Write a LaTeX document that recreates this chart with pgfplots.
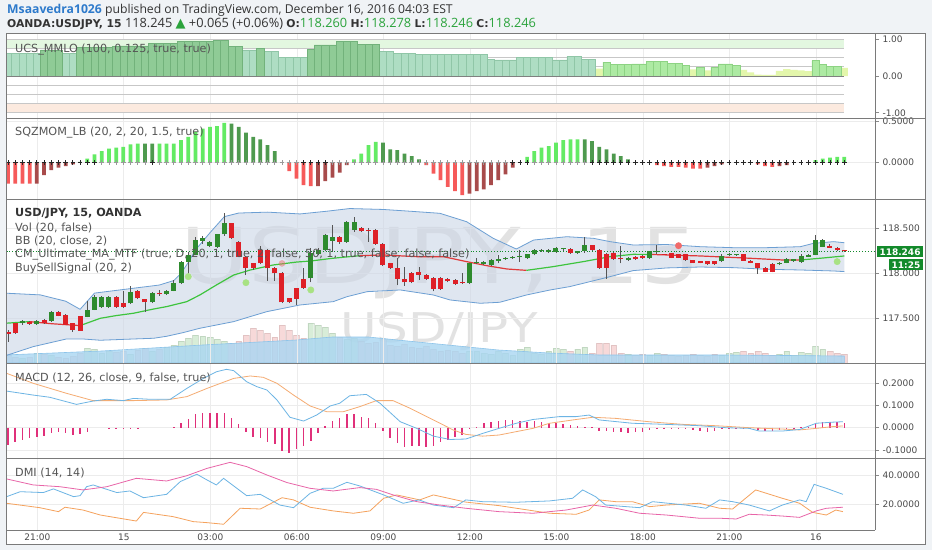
\documentclass[border=0pt]{standalone}
\usepackage{fontspec}
\setmainfont{DejaVu Sans}
\newfontfamily\hdr{Open Sans}
\usepackage{pgfplots}
\pgfplotsset{compat=1.18}
\usepackage{pgfplotstable}

\definecolor{bgc}{HTML}{F0F3F6}
\definecolor{framec}{HTML}{7A7A7A}
\definecolor{gridc}{HTML}{ECECEC}
\definecolor{tickc}{HTML}{8A8A8A}
\definecolor{labc}{HTML}{4A4A4A}
\definecolor{txtc}{HTML}{555555}
\definecolor{hdrc}{HTML}{333333}
\definecolor{userc}{HTML}{2D7ACB}
\definecolor{upc}{HTML}{2BA33C}
\definecolor{mmD}{HTML}{8FCB96}
\definecolor{mmDd}{HTML}{72B27B}
\definecolor{mmM}{HTML}{AEDDC3}
\definecolor{mmMd}{HTML}{90C6A7}
\definecolor{mmL}{HTML}{ADEAA3}
\definecolor{mmLd}{HTML}{8DD383}
\definecolor{mmY}{HTML}{E3F6AB}
\definecolor{bandg}{HTML}{E3F7E0}
\definecolor{bando}{HTML}{FCEADF}
\definecolor{lvl}{HTML}{C7C7C7}
\definecolor{sqG}{HTML}{63EB63}
\definecolor{sqDG}{HTML}{4E9A4E}
\definecolor{sqR}{HTML}{F65A5A}
\definecolor{sqDR}{HTML}{A84B4B}
\definecolor{crossG}{HTML}{9A9A9A}
\definecolor{bblc}{HTML}{6C9FD3}
\definecolor{bbfc}{HTML}{CBD6E6}
\definecolor{maG}{HTML}{3EC43E}
\definecolor{maR}{HTML}{E03A3A}
\definecolor{candG}{HTML}{2E8B2E}
\definecolor{candR}{HTML}{DE2027}
\definecolor{wickc}{HTML}{555555}
\definecolor{pricec}{HTML}{138A2B}
\definecolor{dotG}{HTML}{A8E283}
\definecolor{dotR}{HTML}{F06A6A}
\definecolor{volG}{HTML}{C8E6C8}
\definecolor{volR}{HTML}{F4CACA}
\definecolor{volma}{HTML}{A9D6F2}
\definecolor{volmad}{HTML}{8CC4EA}
\definecolor{histc}{HTML}{E0307A}
\definecolor{macdc}{HTML}{6CB4E4}
\definecolor{sigc}{HTML}{F5AC72}
\definecolor{adxc}{HTML}{E865A8}
\definecolor{pdic}{HTML}{6CB4E4}
\definecolor{mdic}{HTML}{F5A25D}
\definecolor{wmc}{HTML}{E2E2E2}

\newcommand\tickfont{\fontsize{9}{10}\selectfont}
\newcommand\labfont{\fontsize{11.2}{13}\selectfont}
\newcommand\hb[1]{{\rmfamily\bfseries\fontsize{10.8}{12}\selectfont #1}}

\pgfplotsset{pane/.style={
  scale only axis, width=868pt, anchor=north west,
  xmin=-0.139, xmax=120.25,
  axis line style={draw=none},
  xtick={4.06,16.06,28.06,40.06,52.06,64.06,76.06,88.06,100.06,112.06},
  xticklabels={},
  major x tick style={draw=none},
  xmajorgrids, ymajorgrids,
  major grid style={draw=gridc, line width=0.6pt},
  ytick pos=right, yticklabel pos=right, ytick align=outside,
  major tick length=4pt,
  major y tick style={draw=tickc, line width=0.6pt},
  yticklabel style={font=\tickfont, text=labc},
  xticklabel style={font=\tickfont, text=labc},
}}

\pgfplotstableread{
k v c
0 0.62 2
1 0.62 2
2 0.62 2
3 0.62 2
4 0.62 2
5 0.71 1
6 0.71 1
7 0.71 1
8 0.62 2
9 0.62 2
10 0.78 1
11 0.78 1
12 0.78 1
13 0.78 1
14 0.78 1
15 0.80 1
16 0.82 1
17 0.82 1
18 0.82 1
19 0.82 1
20 0.89 1
21 0.89 1
22 0.89 1
23 0.89 1
24 0.94 1
25 0.94 1
26 0.94 1
27 0.94 1
28 0.94 1
29 0.96 1
30 0.96 1
31 0.80 1
32 0.80 1
33 0.71 2
34 0.71 2
35 0.76 1
36 0.67 2
37 0.67 2
38 0.51 2
39 0.51 2
40 0.51 2
41 0.51 2
42 0.73 1
43 0.85 1
44 0.85 1
45 0.85 1
46 0.94 1
47 0.94 1
48 0.94 1
49 0.87 1
50 0.87 1
51 0.87 1
52 0.68 2
53 0.68 2
54 0.62 2
55 0.62 2
56 0.62 2
57 0.58 2
58 0.58 2
59 0.58 2
60 0.58 2
61 0.58 2
62 0.58 2
63 0.58 2
64 0.58 2
65 0.58 2
66 0.58 2
67 0.46 2
68 0.44 2
69 0.44 2
70 0.44 2
71 0.51 2
72 0.51 2
73 0.51 2
74 0.51 2
75 0.51 2
76 0.44 2
77 0.44 2
78 0.53 2
79 0.53 2
80 0.46 2
81 0.46 2
82 0.20 4
83 0.38 3
84 0.31 3
85 0.31 3
86 0.31 3
87 0.33 3
88 0.33 3
89 0.40 3
90 0.40 3
91 0.40 3
92 0.35 3
93 0.35 3
94 0.28 3
95 0.18 4
96 0.24 3
97 0.15 4
98 0.24 3
99 0.33 3
100 0.33 3
101 0.29 3
102 0.17 4
103 0.10 4
104 0.04 4
105 0.03 4
106 0.03 4
107 0.14 4
108 0.19 4
109 0.17 4
110 0.15 4
111 0.13 4
112 0.42 3
113 0.32 3
114 0.26 3
115 0.26 3
116 0.22 4
}\mmlo

\pgfplotstableread{
k v c s z
0 -0.25 3 1 0
1 -0.25 3 1 0
2 -0.25 3 1 0
3 -0.25 3 1 0
4 -0.25 4 1 0
5 -0.15 4 1 0
6 -0.09 4 1 0
7 -0.06 4 1 0
8 -0.04 4 1 0
9 -0.02 4 1 0
10 0.01 1 1 0
11 0.05 1 1 0
12 0.10 1 1 0
13 0.14 1 0 0
14 0.17 1 0 0
15 0.18 1 0 0
16 0.19 1 0 0
17 0.22 1 0 0
18 0.23 1 0 0
19 0.23 2 0 0
20 0.23 2 1 0
21 0.23 1 0 0
22 0.23 1 0 0
23 0.23 1 0 0
24 0.27 1 0 0
25 0.31 1 0 0
26 0.37 1 0 0
27 0.41 1 0 0
28 0.43 1 0 0
29 0.44 1 0 0
30 0.48 1 0 0
31 0.47 2 0 0
32 0.43 2 0 0
33 0.36 2 0 0
34 0.31 2 0 0
35 0.28 2 0 0
36 0.21 2 0 0
37 0.14 2 0 0
38 0.00 2 0 0
39 -0.10 3 0 0
40 -0.19 3 0 0
41 -0.27 3 1 0
42 -0.28 3 1 0
43 -0.28 4 1 0
44 -0.22 4 1 0
45 -0.18 4 0 0
46 -0.12 4 0 0
47 -0.03 4 0 0
48 0.04 1 0 0
49 0.11 1 0 0
50 0.21 1 0 0
51 0.25 1 0 0
52 0.24 2 0 0
53 0.16 2 0 0
54 0.15 2 0 0
55 0.11 2 0 0
56 0.08 2 0 0
57 0.04 2 0 0
58 -0.03 3 0 0
59 -0.13 3 0 0
60 -0.21 3 0 0
61 -0.29 3 0 0
62 -0.34 3 0 0
63 -0.39 3 0 0
64 -0.37 4 0 0
65 -0.34 4 0 0
66 -0.32 4 0 0
67 -0.27 4 0 0
68 -0.21 4 0 0
69 -0.14 4 0 0
70 -0.06 4 1 0
71 0.00 1 1 0
72 0.07 1 1 0
73 0.14 1 0 0
74 0.18 1 0 0
75 0.20 1 0 0
76 0.24 1 0 0
77 0.27 1 0 0
78 0.28 1 0 0
79 0.28 1 0 0
80 0.28 2 0 0
81 0.26 2 1 0
82 0.19 2 1 0
83 0.16 2 1 0
84 0.11 2 1 0
85 0.08 2 1 0
86 0.04 2 1 0
87 0.00 2 1 0
88 0.00 2 1 0
89 0.00 3 1 0
90 -0.03 3 1 0
91 -0.04 3 1 0
92 -0.05 3 1 0
93 -0.05 3 1 0
94 -0.06 3 1 0
95 -0.07 3 1 0
96 -0.07 3 1 0
97 -0.06 4 1 0
98 -0.04 4 1 0
99 -0.02 4 1 0
100 0.00 4 1 0
101 0.00 4 1 0
102 0.00 4 1 0
103 0.00 3 1 0
104 -0.02 3 1 0
105 -0.04 3 1 0
106 -0.05 3 1 0
107 -0.04 4 1 0
108 -0.03 4 1 0
109 0.00 4 1 0
110 0.00 4 1 0
111 0.00 1 1 0
112 0.03 1 1 0
113 0.05 1 1 0
114 0.06 1 1 0
115 0.07 1 1 0
116 0.07 1 1 0
}\sqz

% candles: per candle two rows (low/body-bottom, high/body-top) and a break row
\pgfplotstableread{
k w b c
0 117.24 117.322 0
0 117.37 117.352 0
0 nan nan 0
1 117.33 117.333 0
1 117.45 117.444 0
1 nan nan 0
2 117.43 117.444 1
2 117.48 117.470 1
2 nan nan 1
3 117.43 117.437 0
3 117.47 117.463 0
3 nan nan 0
4 117.43 117.440 1
4 117.48 117.470 1
4 nan nan 1
5 117.44 117.445 0
5 117.49 117.480 0
5 nan nan 0
6 117.46 117.470 1
6 117.58 117.567 1
6 nan nan 1
7 117.52 117.530 0
7 117.58 117.567 0
7 nan nan 0
8 117.42 117.426 0
8 117.55 117.537 0
8 nan nan 0
9 117.35 117.370 0
9 117.45 117.444 0
9 nan nan 0
10 117.36 117.363 0
10 117.53 117.526 0
10 nan nan 0
11 117.51 117.519 1
11 117.69 117.593 1
11 nan nan 1
12 117.59 117.593 1
12 117.76 117.740 1
12 nan nan 1
13 117.62 117.630 1
13 117.75 117.740 1
13 nan nan 1
14 117.62 117.630 1
14 117.75 117.740 1
14 nan nan 1
15 117.62 117.630 0
15 117.75 117.740 0
15 nan nan 0
16 117.62 117.630 0
16 117.80 117.667 0
16 nan nan 0
17 117.66 117.667 1
17 117.86 117.796 1
17 nan nan 1
18 117.71 117.722 0
18 117.81 117.804 0
18 nan nan 0
19 117.57 117.678 0
19 117.72 117.715 0
19 nan nan 0
20 117.67 117.678 1
20 117.79 117.785 1
20 nan nan 1
21 117.75 117.767 0
21 117.82 117.785 0
21 nan nan 0
22 117.76 117.770 1
22 117.82 117.807 1
22 nan nan 1
23 117.80 117.807 1
23 117.93 117.889 1
23 nan nan 1
24 117.88 117.889 1
24 118.14 118.130 1
24 nan nan 1
25 117.96 118.130 1
25 118.24 118.204 1
25 nan nan 1
26 118.20 118.204 1
26 118.40 118.370 1
26 nan nan 1
27 118.33 118.360 1
27 118.41 118.390 1
27 nan nan 1
28 118.29 118.307 1
28 118.36 118.352 1
28 nan nan 1
29 118.28 118.296 1
29 118.44 118.433 1
29 nan nan 1
30 118.42 118.433 1
30 118.667 118.556 1
30 nan nan 1
31 118.38 118.389 0
31 118.56 118.556 0
31 nan nan 0
32 118.18 118.185 0
32 118.36 118.352 0
32 nan nan 0
33 117.98 118.063 0
33 118.19 118.185 0
33 nan nan 0
34 118.04 118.056 0
34 118.12 118.111 0
34 nan nan 0
35 118.10 118.111 0
35 118.30 118.259 0
35 nan nan 0
36 117.92 118.056 0
36 118.27 118.259 0
36 nan nan 0
37 117.92 118.000 0
37 118.07 118.063 0
37 nan nan 0
38 117.67 117.678 0
38 118.01 118.000 0
38 nan nan 0
39 117.67 117.678 0
39 117.73 117.722 0
39 nan nan 0
40 117.65 117.715 0
40 117.84 117.833 0
40 nan nan 0
41 117.83 117.841 0
41 118.06 117.937 0
41 nan nan 0
42 117.90 117.944 1
42 118.28 118.222 1
42 nan nan 1
43 118.20 118.220 1
43 118.28 118.260 1
43 nan nan 1
44 118.25 118.260 1
44 118.44 118.430 1
44 nan nan 1
45 118.24 118.360 1
45 118.54 118.400 1
45 nan nan 1
46 118.33 118.350 0
46 118.41 118.400 0
46 nan nan 0
47 118.34 118.350 1
47 118.58 118.570 1
47 nan nan 1
48 118.46 118.480 1
48 118.63 118.570 1
48 nan nan 1
49 118.46 118.470 0
49 118.51 118.500 0
49 nan nan 0
50 118.35 118.470 0
50 118.50 118.482 0
50 nan nan 0
51 118.32 118.330 0
51 118.49 118.480 0
51 nan nan 0
52 118.08 118.090 0
52 118.34 118.330 0
52 nan nan 0
53 118.05 118.060 0
53 118.12 118.110 0
53 nan nan 0
54 117.87 117.940 0
54 118.17 118.060 0
54 nan nan 0
55 117.86 117.900 0
55 118.07 117.940 0
55 nan nan 0
56 117.89 117.900 0
56 118.01 118.000 0
56 nan nan 0
57 117.93 117.980 0
57 118.07 118.010 0
57 nan nan 0
58 117.93 117.940 0
58 117.99 117.980 0
58 nan nan 0
59 117.80 117.830 0
59 117.96 117.950 0
59 nan nan 0
60 117.82 117.830 0
60 117.96 117.950 0
60 nan nan 0
61 117.90 117.910 0
61 117.95 117.940 0
61 nan nan 0
62 117.87 117.880 0
62 117.94 117.930 0
62 nan nan 0
63 117.88 117.890 0
63 118.00 117.902 0
63 nan nan 0
64 117.88 117.890 1
64 118.12 118.110 1
64 nan nan 1
65 118.10 118.110 1
65 118.17 118.130 1
65 nan nan 1
66 118.09 118.100 1
66 118.14 118.130 1
66 nan nan 1
67 118.08 118.090 1
67 118.16 118.150 1
67 nan nan 1
68 118.11 118.140 1
68 118.20 118.160 1
68 nan nan 1
69 118.15 118.160 1
69 118.18 118.172 1
69 nan nan 1
70 118.16 118.170 1
70 118.19 118.182 1
70 nan nan 1
71 118.13 118.180 1
71 118.26 118.192 1
71 nan nan 1
72 118.16 118.170 1
72 118.22 118.210 1
72 nan nan 1
73 118.20 118.210 1
73 118.27 118.260 1
73 nan nan 1
74 118.24 118.250 1
74 118.27 118.262 1
74 nan nan 1
75 118.23 118.240 1
75 118.27 118.255 1
75 nan nan 1
76 118.23 118.240 1
76 118.29 118.280 1
76 nan nan 1
77 118.25 118.265 1
77 118.28 118.277 1
77 nan nan 1
78 118.22 118.230 0
78 118.28 118.270 0
78 nan nan 0
79 118.22 118.230 1
79 118.25 118.245 1
79 nan nan 1
80 118.23 118.250 1
80 118.40 118.310 1
80 nan nan 1
81 118.25 118.260 0
81 118.32 118.310 0
81 nan nan 0
82 118.05 118.060 0
82 118.27 118.260 0
82 nan nan 0
83 117.94 118.060 0
83 118.23 118.220 0
83 nan nan 0
84 118.15 118.156 0
84 118.24 118.222 0
84 nan nan 0
85 118.11 118.156 0
85 118.30 118.168 0
85 nan nan 0
86 118.14 118.148 1
86 118.18 118.167 1
86 nan nan 1
87 118.15 118.156 0
87 118.19 118.185 0
87 nan nan 0
88 118.16 118.167 0
88 118.20 118.193 0
88 nan nan 0
89 118.16 118.167 1
89 118.25 118.248 1
89 nan nan 1
90 118.22 118.233 1
90 118.32 118.245 1
90 nan nan 1
91 118.20 118.204 0
91 118.22 118.216 0
91 nan nan 0
92 118.17 118.174 0
92 118.23 118.222 0
92 nan nan 0
93 118.17 118.174 0
93 118.22 118.211 0
93 nan nan 0
94 118.14 118.148 0
94 118.22 118.211 0
94 nan nan 0
95 118.11 118.119 0
95 118.15 118.148 0
95 nan nan 0
96 118.11 118.119 0
96 118.14 118.137 0
96 nan nan 0
97 118.09 118.100 0
97 118.14 118.137 0
97 nan nan 0
98 118.09 118.100 0
98 118.14 118.137 0
98 nan nan 0
99 118.13 118.133 1
99 118.22 118.196 1
99 nan nan 1
100 118.19 118.204 1
100 118.23 118.216 1
100 nan nan 1
101 118.19 118.204 1
101 118.22 118.216 1
101 nan nan 1
102 118.14 118.141 0
102 118.22 118.211 0
102 nan nan 0
103 118.11 118.119 0
103 118.15 118.141 0
103 nan nan 0
104 117.993 118.063 0
104 118.12 118.119 0
104 nan nan 0
105 118.01 118.019 0
105 118.07 118.063 0
105 nan nan 0
106 118.01 118.019 0
106 118.11 118.100 0
106 nan nan 0
107 118.09 118.100 1
107 118.13 118.119 1
107 nan nan 1
108 118.11 118.119 1
108 118.17 118.156 1
108 nan nan 1
109 118.13 118.137 1
109 118.16 118.156 1
109 nan nan 1
110 118.12 118.122 1
110 118.22 118.193 1
110 nan nan 1
111 118.18 118.185 1
111 118.21 118.204 1
111 nan nan 1
112 118.20 118.204 1
112 118.426 118.370 1
112 nan nan 1
113 118.29 118.296 1
113 118.38 118.370 1
113 nan nan 1
114 118.28 118.285 0
114 118.33 118.307 0
114 nan nan 0
115 118.25 118.259 0
115 118.29 118.278 0
115 nan nan 0
116 118.24 118.248 0
116 118.26 118.260 0
116 nan nan 0
}\cl

\pgfplotstableread{
k v c
0 8 0
1 6 0
2 5 1
3 6 0
4 10 1
5 9 0
6 8 1
7 6 0
8 5 0
9 7 0
10 10 0
11 15 1
12 14 1
13 10 1
14 12 1
15 11 0
16 12 0
17 9 1
18 13 0
19 15 0
20 12 1
21 14 0
22 16 1
23 18 1
24 22 1
25 25 1
26 28 1
27 27 1
28 26 1
29 24 1
30 22 1
31 20 0
32 22 0
33 28 0
34 35 0
35 33 0
36 30 0
37 26 0
38 38 0
39 33 0
40 28 0
41 25 0
42 40 1
43 38 1
44 36 1
45 30 1
46 26 0
47 24 1
48 25 1
49 22 0
50 20 0
51 21 0
52 24 0
53 18 0
54 17 0
55 19 0
56 16 0
57 15 0
58 17 0
59 14 0
60 12 0
61 13 0
62 12 0
63 10 0
64 12 1
65 12 1
66 10 1
67 9 1
68 12 1
69 10 1
70 8 1
71 14 1
72 16 1
73 10 1
74 9 1
75 12 1
76 15 1
77 14 1
78 12 0
79 14 1
80 16 1
81 10 0
82 20 0
83 20 0
84 18 0
85 10 0
86 9 1
87 8 0
88 9 0
89 8 1
90 10 1
91 9 0
92 8 0
93 7 0
94 8 0
95 9 0
96 8 0
97 7 0
98 9 0
99 8 1
100 10 1
101 11 1
102 12 0
103 10 0
104 12 0
105 10 0
106 8 0
107 9 1
108 12 1
109 8 1
110 11 1
111 10 1
112 17 1
113 14 1
114 12 0
115 10 0
116 9 0
}\vol

\pgfplotstableread{
k u
-0.5 117.78
4.5 117.76
8 117.69
10 117.60
12 117.78
15 117.81
18 117.84
21 117.87
23 117.92
24 118.00
25 118.12
26 118.26
28 118.45
30 118.63
32 118.67
36 118.68
40.5 118.66
44.2 118.69
47.4 118.72
52 118.71
55.8 118.69
59.9 118.667
63.6 118.574
67.3 118.389
70.5 118.27
72.9 118.37
77.5 118.407
81.2 118.389
83.5 118.352
86.7 118.315
91.4 118.32
96 118.296
100.6 118.285
105.2 118.285
109.9 118.296
111.7 118.333
114.5 118.352
116 118.34
}\bbu

\pgfplotstableread{
k l
-0.5 117.08
3.5 117.185
8.1 117.27
10.4 117.27
12.8 117.256
17.4 117.27
20.2 117.278
22 117.30
24.3 117.341
26.6 117.389
31.3 117.463
33.6 117.519
35.9 117.574
38.2 117.611
40.5 117.648
45.1 117.685
47 117.74
49.8 117.796
54.4 117.815
59 117.759
61.3 117.704
65.5 117.667
68.2 117.678
71.9 117.759
75.2 117.815
77.9 117.852
80.7 117.907
83.5 117.963
86.7 118.03
91.4 118.06
96 118.070
100.6 118.063
105.2 118.045
109.9 118.037
114.5 118.026
116 118.019
}\bbl

\pgfplotstableread{
k m
-0.5 8
13 12
27 18
40 23
45 26
50 26
54 23
61 18
68 13
75 10
82 8
100 8
116 7
}\volma

\pgfplotstableread{
k h
0 -0.078
1 -0.063
2 -0.056
3 -0.048
4 -0.040
5 -0.038
6 -0.023
7 -0.018
8 -0.023
9 -0.033
10 -0.029
11 -0.018
12 0
13 0
14 -0.003
15 -0.003
16 -0.003
17 -0.003
18 -0.003
19 0
20 0
21 0
22 0
23 0.003
24 0.023
25 0.038
26 0.060
27 0.068
28 0.068
29 0.065
30 0.068
31 0.045
32 0.017
33 -0.018
34 -0.040
35 -0.045
36 -0.063
37 -0.074
38 -0.104
39 -0.116
40 -0.098
41 -0.083
42 -0.059
43 -0.026
44 0.008
45 0.030
46 0.042
47 0.060
48 0.060
49 0.050
50 0.042
51 0.023
52 -0.015
53 -0.045
54 -0.068
55 -0.086
56 -0.083
57 -0.083
58 -0.086
59 -0.083
60 -0.063
61 -0.056
62 -0.040
63 -0.033
64 -0.005
65 0.003
66 0.020
67 0.027
68 0.032
69 0.035
70 0.035
71 0.030
72 0.027
73 0.032
74 0.027
75 0.023
76 0.023
77 0.015
78 0.010
79 0.008
80 0.005
81 0.004
82 -0.015
83 -0.015
84 -0.018
85 -0.018
86 -0.023
87 -0.020
88 -0.018
89 -0.010
90 -0.006
91 -0.005
92 -0.003
93 -0.003
94 -0.006
95 -0.010
96 -0.015
97 -0.018
98 -0.015
99 -0.008
100 -0.003
101 -0.002
102 -0.002
103 -0.005
104 -0.010
105 -0.013
106 -0.013
107 -0.010
108 -0.008
109 -0.003
110 0.001
111 0.005
112 0.020
113 0.027
114 0.027
115 0.024
116 0.020
}\macdh

\begin{document}
\begin{tikzpicture}
\useasboundingbox (0pt,0pt) rectangle (932pt,-550pt);
\fill[bgc] (0pt,0pt) rectangle (932pt,-550pt);
\fill[white] (6pt,-33pt) rectangle (925pt,-544pt);

% header
\node[anchor=base west, inner sep=0pt, font=\hdr\fontsize{12.2}{14}\selectfont, text=hdrc] at (7pt,-13.3pt)
  {\textcolor{userc}{\bfseries Msaavedra1026} published on TradingView.com, December 16, 2016 04:03 EST};
\node[anchor=base west, inner sep=0pt, font=\hdr\fontsize{12.8}{14}\selectfont, text=hdrc] at (7pt,-27.3pt)
  {\hb{OANDA:USDJPY, 15} 118.245 {\rmfamily\fontsize{13}{14}\selectfont\textcolor{upc}{▲}} +0.065 (+0.06\%) \hb{O:}\textcolor{upc}{118.260} \hb{H:}\textcolor{upc}{118.278} \hb{L:}\textcolor{upc}{118.246} \hb{C:}\textcolor{upc}{118.246}};

% watermark
\node[anchor=base west, inner sep=0pt, text=wmc, font=\fontsize{77}{77}\selectfont] at (180pt,-283pt) {\scalebox{1.22}[1]{USDJPY, 15}};
\node[anchor=base west, inner sep=0pt, text=wmc, font=\fontsize{41}{41}\selectfont] at (340pt,-342pt) {\scalebox{1.22}[1]{USD/JPY}};

% ===== Pane 1: UCS_MMLO
\begin{axis}[pane, at={(7pt,-33pt)}, height=85pt, ymin=-1.143, ymax=1.170,
  ytick={-1,0,1}, yticklabels={-1.00,0.00,1.00}, ymajorgrids=false]
\addplot[draw=none, fill=bandg] coordinates {(-0.5,0.75) (116,0.75) (116,1) (-0.5,1)} -- cycle;
\addplot[draw=none, fill=bando] coordinates {(-0.5,-0.75) (116,-0.75) (116,-1) (-0.5,-1)} -- cycle;
\addplot[lvl, line width=0.7pt] coordinates {(-0.5,1) (116,1)};
\addplot[lvl, line width=0.7pt] coordinates {(-0.5,0.75) (116,0.75)};
\addplot[lvl, line width=0.7pt] coordinates {(-0.5,0.5) (116,0.5)};
\addplot[lvl, line width=0.7pt] coordinates {(-0.5,0.25) (116,0.25)};
\addplot[lvl, line width=0.7pt] coordinates {(-0.5,-0.25) (116,-0.25)};
\addplot[lvl, line width=0.7pt] coordinates {(-0.5,-0.5) (116,-0.5)};
\addplot[lvl, line width=0.7pt] coordinates {(-0.5,-0.75) (116,-0.75)};
\addplot[lvl, line width=0.7pt] coordinates {(-0.5,-1) (116,-1)};
\addplot[ybar, bar width=1, bar shift=0pt, fill=mmY, draw=none, restrict expr to domain={\thisrow{c}}{4:4}] table[x=k,y=v]{\mmlo};
\addplot[ybar, bar width=1, bar shift=0pt, fill=mmL, draw=mmLd, line width=0.5pt, restrict expr to domain={\thisrow{c}}{3:3}] table[x=k,y=v]{\mmlo};
\addplot[ybar, bar width=1, bar shift=0pt, fill=mmM, draw=mmMd, line width=0.5pt, restrict expr to domain={\thisrow{c}}{2:2}] table[x=k,y=v]{\mmlo};
\addplot[ybar, bar width=1, bar shift=0pt, fill=mmD, draw=mmDd, line width=0.5pt, restrict expr to domain={\thisrow{c}}{1:1}] table[x=k,y=v]{\mmlo};
\addplot[gray, line width=0.8pt] coordinates {(-0.5,0) (116,0)};
\end{axis}

% ===== Pane 2: SQZMOM
\begin{axis}[pane, at={(7pt,-118pt)}, height=81pt, ymin=-0.436, ymax=0.537,
  ytick={0,0.5}, yticklabels={0.0000,0.5000}]
\addplot[ybar, bar width=0.52, bar shift=0pt, fill=sqG, draw=none, restrict expr to domain={\thisrow{c}}{1:1}] table[x=k,y=v]{\sqz};
\addplot[ybar, bar width=0.52, bar shift=0pt, fill=sqDG, draw=none, restrict expr to domain={\thisrow{c}}{2:2}] table[x=k,y=v]{\sqz};
\addplot[ybar, bar width=0.52, bar shift=0pt, fill=sqR, draw=none, restrict expr to domain={\thisrow{c}}{3:3}] table[x=k,y=v]{\sqz};
\addplot[ybar, bar width=0.52, bar shift=0pt, fill=sqDR, draw=none, restrict expr to domain={\thisrow{c}}{4:4}] table[x=k,y=v]{\sqz};
\addplot[only marks, mark=+, mark size=2.3pt, crossG, line width=0.8pt, restrict expr to domain={\thisrow{s}}{0:0}] table[x=k,y=z]{\sqz};
\addplot[only marks, mark=+, mark size=2.3pt, black!85, line width=0.8pt, restrict expr to domain={\thisrow{s}}{1:1}] table[x=k,y=z]{\sqz};
\end{axis}

% ===== Pane 3: volume (behind)
\begin{axis}[scale only axis, width=868pt, height=164pt, at={(7pt,-199pt)}, anchor=north west,
  xmin=-0.139, xmax=120.25, ymin=0, ymax=164, hide axis]
\addplot[ybar, bar width=0.8, bar shift=0pt, fill=volG, draw=volG!80!black, fill opacity=0.7, draw opacity=0.4, line width=0.4pt, restrict expr to domain={\thisrow{c}}{1:1}] table[x=k,y=v]{\vol};
\addplot[ybar, bar width=0.8, bar shift=0pt, fill=volR, draw=volR!80!black, fill opacity=0.7, draw opacity=0.4, line width=0.4pt, restrict expr to domain={\thisrow{c}}{0:0}] table[x=k,y=v]{\vol};
\addplot[fill=volma, fill opacity=0.8, draw=volmad, line width=0.6pt] table[x=k,y=m]{\volma} \closedcycle;
\end{axis}

% ===== Pane 3: price
\begin{axis}[pane, at={(7pt,-199pt)}, height=164pt, ymin=117.003, ymax=118.826,
  ytick={117,117.5,118,118.5}, yticklabels={117.000,117.500,118.000,118.500},
  unbounded coords=jump]
\addplot[draw=none, fill=bbfc, fill opacity=0.6] coordinates {(-0.5,117.78) (4.5,117.76) (8,117.69) (10,117.60) (12,117.78) (15,117.81) (18,117.84) (21,117.87) (23,117.92) (24,118.00) (25,118.12) (26,118.26) (28,118.45) (30,118.63) (32,118.67) (36,118.68) (40.5,118.66) (44.2,118.69) (47.4,118.72) (52,118.71) (55.8,118.69) (59.9,118.667) (63.6,118.574) (67.3,118.389) (70.5,118.27) (72.9,118.37) (77.5,118.407) (81.2,118.389) (83.5,118.352) (86.7,118.315) (91.4,118.32) (96,118.296) (100.6,118.285) (105.2,118.285) (109.9,118.296) (111.7,118.333) (114.5,118.352) (116,118.34)
 (116,118.019) (114.5,118.026) (109.9,118.037) (105.2,118.045) (100.6,118.063) (96,118.070) (91.4,118.06) (86.7,118.03) (83.5,117.963) (80.7,117.907) (77.9,117.852) (75.2,117.815) (71.9,117.759) (68.2,117.678) (65.5,117.667) (61.3,117.704) (59,117.759) (54.4,117.815) (49.8,117.796) (47,117.74) (45.1,117.685) (40.5,117.648) (38.2,117.611) (35.9,117.574) (33.6,117.519) (31.3,117.463) (26.6,117.389) (24.3,117.341) (22,117.30) (20.2,117.278) (17.4,117.27) (12.8,117.256) (10.4,117.27) (8.1,117.27) (3.5,117.185) (-0.5,117.08)} -- cycle;
\addplot[bblc, line width=0.8pt] table[x=k,y=u]{\bbu};
\addplot[bblc, line width=0.8pt] table[x=k,y=l]{\bbl};
\addplot[maG, line width=1.2pt] coordinates {(-0.5,117.444) (3,117.463)};
\addplot[maR, line width=1.2pt] coordinates {(3,117.463) (6,117.44) (10,117.419)};
\addplot[maG, line width=1.2pt] coordinates {(10,117.419) (12.8,117.50) (15,117.53) (17.4,117.556) (20,117.60) (22,117.63) (24.8,117.685) (26.6,117.759) (28.9,117.87) (31.3,117.981) (33.6,118.037) (36.8,118.093) (40,118.125) (42,118.137) (45,118.167) (48.8,118.196)};
\addplot[maR, line width=1.2pt] coordinates {(48.8,118.196) (52,118.204) (56.7,118.185) (60.4,118.185) (63.6,118.13) (66.4,118.085) (69.2,118.048) (71.9,118.033)};
\addplot[maG, line width=1.2pt] coordinates {(71.9,118.033) (75.6,118.074) (79.8,118.13) (83.5,118.185) (86.7,118.211) (89,118.21)};
\addplot[maR, line width=1.2pt] coordinates {(89,118.21) (96,118.193) (103,118.167) (107.5,118.148) (109.9,118.148)};
\addplot[maG, line width=1.2pt] coordinates {(109.9,118.148) (113,118.17) (116,118.193)};
\addplot[pricec, dotted, line width=0.9pt] coordinates {(-1,118.246) (121,118.246)};
% faint sell marker behind a candle
\addplot[only marks, mark=*, mark size=3pt, color=dotR, opacity=0.45] coordinates {(38,118.11)};
% wicks and bodies
\addplot[wickc, line width=0.9pt] table[x=k,y=w]{\cl};
\addplot[candG, line width=5pt, restrict expr to domain={\thisrow{c}}{1:1}] table[x=k,y=b]{\cl};
\addplot[candR, line width=5pt, restrict expr to domain={\thisrow{c}}{0:0}] table[x=k,y=b]{\cl};
% signals
\addplot[only marks, mark=*, mark size=3.2pt, color=dotG] coordinates {(25,117.963) (33,117.896) (42,117.815) (115,118.13)};
\addplot[only marks, mark=*, mark size=3.2pt, color=dotR] coordinates {(93,118.307)};
\end{axis}

% ===== Pane 4: MACD
\begin{axis}[pane, at={(7pt,-363pt)}, height=95pt, ymin=-0.1365, ymax=0.2914,
  ytick={-0.1,0,0.1,0.2}, yticklabels={-0.1000,0.0000,0.1000,0.2000}]
\addplot[ycomb, histc, line width=1.5pt] table[x=k,y=h]{\macdh};
\addplot[sigc, line width=0.8pt] coordinates {(-0.2,0.245) (3.5,0.2) (8.1,0.155) (11.8,0.122) (17.4,0.122) (22,0.125) (24.8,0.14) (27.6,0.177) (31.3,0.222) (33.6,0.233) (35.4,0.227) (37.3,0.2) (39.6,0.147) (41.9,0.098) (44.2,0.072) (46.5,0.072) (48.8,0.095) (51.1,0.122) (53.4,0.122) (55.8,0.087) (59,0.035) (61.8,-0.011) (63.5,-0.03) (65.8,-0.038) (68.1,-0.033) (72.8,-0.003) (75.1,0.02) (78.8,0.037) (81.1,0.047) (84.3,0.042) (88.9,0.027) (93.6,0.015) (98.2,0.009) (102.8,0) (107.4,-0.006) (109.8,-0.01) (112.1,-0.003) (114.4,0.005) (115.8,0.008)};
\addplot[macdc, line width=0.8pt] coordinates {(-0.2,0.165) (3.5,0.147) (5.8,0.137) (9.5,0.105) (11.8,0.12) (13.7,0.128) (16,0.122) (17.4,0.132) (19.7,0.128) (22.5,0.128) (24.8,0.177) (27.1,0.222) (28.9,0.252) (30.3,0.263) (31.3,0.257) (33.1,0.207) (34.5,0.185) (35.9,0.17) (37.3,0.125) (39.1,0.047) (41,0.03) (42.8,0.057) (44.7,0.098) (46,0.11) (47.4,0.144) (49.7,0.15) (51.6,0.11) (54.4,0.027) (56.7,-0.003) (59,-0.038) (61.3,-0.053) (63.5,-0.051) (65.8,-0.026) (68.1,-0.003) (70.5,0.02) (72.8,0.037) (76.5,0.05) (78.8,0.05) (80.6,0.057) (82,0.035) (86.6,0.02) (91.3,0.015) (95.9,0.009) (99.6,0.0) (102.8,-0.003) (104.2,-0.015) (107.4,-0.015) (109.8,-0.008) (112.1,0.02) (114.4,0.025) (115.8,0.027)};
\end{axis}

% ===== Pane 5: DMI
\begin{axis}[pane, at={(7pt,-458pt)}, height=72pt, ymin=2.48, ymax=51.56,
  ytick={20,40}, yticklabels={20.0000,40.0000},
  xticklabels={21:00,15,03:00,06:00,09:00,12:00,15:00,18:00,21:00,16}]
\addplot[mdic, line width=0.8pt] coordinates {(-0.2,20.7) (4.4,17.7) (7,15) (7.9,18) (10.4,16.1) (12.8,12.7) (17.8,8.6) (18.8,14.5) (22.9,11.6) (25.7,8.2) (27.6,7.5) (29.9,6.4) (32.2,17.3) (35,16.8) (38,24.5) (39.6,23) (41.9,18) (45.1,15.5) (47.9,13.9) (50.2,15.5) (52.1,24.1) (53.9,26.4) (57.1,23) (59,26.4) (63.5,21.5) (68.1,19.1) (75.1,13.9) (78.8,13.2) (80.6,16.1) (82,23) (84.3,21.8) (86.6,21.8) (89,18.4) (91.3,19.5) (95.9,20.7) (98.7,17.3) (100.5,16.8) (103.7,29.8) (107.4,24.1) (109.8,20.7) (111.6,14.5) (113.5,12.7) (114.8,16.1) (115.8,15)};
\addplot[pdic, line width=0.8pt] coordinates {(-0.2,25.2) (1.7,28.6) (4.9,28) (6.3,30.5) (9.1,25.2) (10,25.9) (10.9,32) (11.8,33.2) (15.1,28) (16.9,29.1) (18.8,24.5) (22,26.8) (23.9,35.5) (26.2,40.5) (27.6,36.6) (28.9,33.2) (29.9,37.7) (33.1,25.9) (35,26.8) (37.7,19.5) (39.6,17.7) (41.9,27.5) (43.7,30.9) (45.1,30.9) (47,35) (48.8,32.5) (52.1,26.4) (54.8,20.7) (57,23) (59,19.5) (61.8,17.7) (63.5,23) (65.8,21.8) (70.5,21.4) (75.1,22.3) (78.3,24.1) (79.7,29.8) (81.5,25.2) (82.9,19.5) (87.6,17.7) (89.4,21.8) (94,19.5) (96.8,17.3) (98.7,23) (100.5,21.8) (102.8,19.5) (105.6,15.5) (107.4,19.5) (109.8,23) (110.7,21.8) (111.8,33.6) (113.5,30.9) (115.8,26.8)};
\addplot[adxc, line width=0.8pt] coordinates {(-0.2,37.3) (3.5,33.2) (7.2,32) (10.4,29.8) (13.7,32) (17.8,37.7) (22,35.9) (24.8,39.5) (27.6,44.5) (30.8,48.6) (33.1,45.7) (35.9,40) (38.7,34.8) (41.9,30.9) (45.1,29.1) (48.8,31.4) (51.1,30.2) (53.4,26.4) (56.7,21.8) (59.9,19.5) (63.5,17.3) (68.1,15) (72.8,13.9) (77.4,16.1) (81.1,19.5) (84.3,17.3) (87.6,13.9) (91.3,12.7) (95.9,10.5) (98.7,10.5) (101,10) (102.8,13.2) (105.1,12.7) (107.4,12) (109.8,11.1) (112.1,15.5) (113.5,17.3) (115.8,18)};
\end{axis}

% frames and separators
\draw[framec, line width=0.9pt] (6pt,-33pt) rectangle (925pt,-544pt);
\draw[framec, line width=0.9pt] (6pt,-118pt) -- (925pt,-118pt);
\draw[framec, line width=0.9pt] (6pt,-199pt) -- (925pt,-199pt);
\draw[framec, line width=0.9pt] (6pt,-363pt) -- (925pt,-363pt);
\draw[framec, line width=0.9pt] (6pt,-458pt) -- (925pt,-458pt);
\draw[framec, line width=0.9pt] (6pt,-530pt) -- (875pt,-530pt);
\draw[framec, line width=0.9pt] (875pt,-33pt) -- (875pt,-530pt);
\fill[white] (876pt,-363.6pt) rectangle (924.4pt,-369pt);

% pane labels
\node[anchor=base west, inner sep=0pt, font=\labfont, text=txtc] at (15pt,-52pt) {UCS\_MMLO (100, 0.125, true, true)};
\node[anchor=base west, inner sep=0pt, font=\labfont, text=txtc] at (15pt,-135pt) {SQZMOM\_LB (20, 2, 20, 1.5, true)};
\node[anchor=base west, inner sep=0pt, font=\labfont\bfseries, text=hdrc] at (15pt,-216pt) {USD/JPY, 15, OANDA};
\node[anchor=base west, inner sep=0pt, font=\labfont, text=txtc] at (15pt,-231pt) {Vol (20, false)};
\node[anchor=base west, inner sep=0pt, font=\labfont, text=txtc] at (15pt,-244pt) {BB (20, close, 2)};
\node[anchor=base west, inner sep=0pt, font=\labfont, text=txtc] at (15pt,-257pt) {CM\_Ultimate\_MA\_MTF (true, D, 20, 1, true, 2, false, 50, 1, true, false, false, false)};
\node[anchor=base west, inner sep=0pt, font=\labfont, text=txtc] at (15pt,-271pt) {BuySellSignal (20, 2)};
\node[anchor=base west, inner sep=0pt, font=\labfont, text=txtc] at (15pt,-381pt) {MACD (12, 26, close, 9, false, true)};
\node[anchor=base west, inner sep=0pt, font=\labfont, text=txtc] at (15pt,-476pt) {DMI (14, 14)};

% price labels
\fill[pricec] (877pt,-246.3pt) rectangle (923pt,-257.3pt);
\node[text=white, inner sep=0pt, font=\tickfont\bfseries] at (900pt,-251.8pt) {118.246};
\fill[pricec] (889pt,-259.3pt) rectangle (923pt,-270.3pt);
\node[text=white, inner sep=0pt, font=\tickfont\bfseries] at (906pt,-264.8pt) {11:25};
\end{tikzpicture}
\end{document}
